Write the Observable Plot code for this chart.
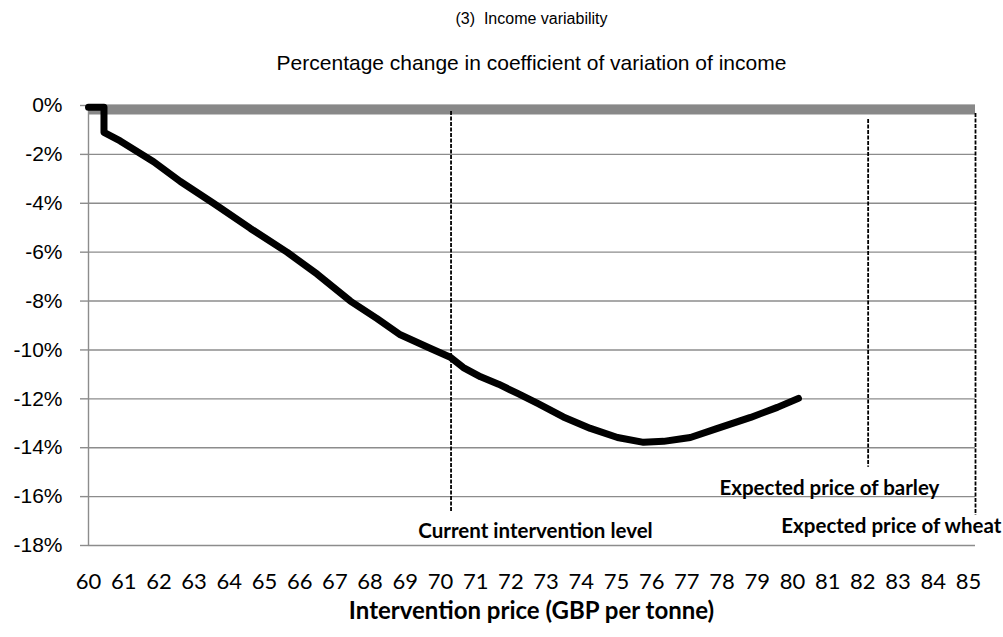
<!DOCTYPE html>
<html>
<head>
<meta charset="utf-8">
<script src="https://cdn.jsdelivr.net/npm/d3@7"></script>
<script src="https://cdn.jsdelivr.net/npm/@observablehq/plot@0.6"></script>
<style>
  html, body { margin: 0; padding: 0; background: #fff; }
  #wrap { width: 1003px; height: 637px; position: relative; overflow: hidden; }
  .title { font-family: "Liberation Sans", Arial, sans-serif; color: #000; text-align: center; position: absolute; left: 0; width: 1003px; padding-left: 60px; box-sizing: border-box; }
  #t1 { top: 10px; font-size: 16px; }
  #t2 { top: 51px; font-size: 21px; }
  #chart { position: absolute; top: 85px; left: 0; }
  #xt { position: absolute; top: 595px; left: 0; width: 1003px; text-align: center; padding-left: 60px; box-sizing: border-box;
        font-family: Lato, "Open Sans", sans-serif; font-weight: bold; font-size: 24px; }
</style>
</head>
<body>
<div id="wrap">
  <div class="title" id="t1">(3)&nbsp; Income variability</div>
  <div class="title" id="t2">Percentage change in coefficient of variation of income</div>
  <div id="chart"></div>
  <div id="xt">Intervention price (GBP per tonne)</div>
</div>
<script>
// Intervention price (GBP per tonne) and % change in coefficient of variation of income
const price = [60, 60.44, 60.44, 60.9, 61.85, 62.61, 63.55, 64.6, 65.65, 66.5, 67.44, 68.2, 68.86, 69.72,
  70.28, 70.65, 71.14, 71.65, 72.19, 72.76, 73.49, 74.26, 75.03, 75.77, 76.34, 76.9, 77.1, 77.87, 78.81, 79.57, 80.17];
const cvChange = [-0.07, -0.07, -1.10, -1.45, -2.3, -3.11, -4.0, -5.03, -6.01, -6.9, -8.0, -8.72, -9.38, -9.94,
  -10.3, -10.72, -11.1, -11.4, -11.78, -12.19, -12.74, -13.21, -13.58, -13.78, -13.74, -13.62, -13.58, -13.21, -12.76, -12.35, -11.98];

const yTicks = [0, -2, -4, -6, -8, -10, -12, -14, -16, -18];
const xTicks = [60, 61, 62, 63, 64, 65, 66, 67, 68, 69, 70, 71, 72, 73, 74, 75, 76, 77, 78, 79, 80, 81, 82, 83, 84, 85];

// zero reference band
const bandLevel = [-0.16];

// reference price markers
const markerPrice = [70.3, 82.15, 85.2];
const markerTop = [-0.25, -0.57, -0.33];
const markerBottom = [-16.65, -14.8, -16.77];

// marker labels
const noteText = ["Current intervention level", "Expected price of barley", "Expected price of wheat"];
const noteX = [72.7, 81.05, 82.81];
const noteY = [-17.44, -15.66, -17.22];

const series = price.map((p, i) => ({price: p, cv: cvChange[i]}));
const markers = markerPrice.map((p, i) => ({price: p, top: markerTop[i], bottom: markerBottom[i]}));
const notes = noteText.map((t, i) => ({text: t, x: noteX[i], y: noteY[i]}));

const grid = "#8c8c8c";

const chart = Plot.plot({
  width: 1003,
  height: 515,
  marginLeft: 88,
  marginRight: 28,
  marginTop: 20,
  marginBottom: 55,
  style: {background: "#fff", color: "#000", overflow: "visible"},
  x: {domain: [60, 85.2]},
  y: {domain: [-18, 0]},
  marks: [
    Plot.ruleY(yTicks, {stroke: grid, strokeWidth: 1.4}),
    Plot.ruleY(bandLevel, {stroke: "#888888", strokeWidth: 10}),
    Plot.ruleX([60], {stroke: grid, strokeWidth: 1.4}),
    Plot.axisY({ticks: yTicks, tickSize: 8, tickPadding: 18, stroke: grid, strokeWidth: 1.4,
      tickFormat: d => `${d}%`, fontFamily: "Liberation Sans, Arial, sans-serif", fontSize: 21, fill: "#000", label: null}),
    Plot.axisX({ticks: xTicks, tickSize: 0, tickPadding: 28, tickFormat: d => String(d),
      fontFamily: "Lato, sans-serif", fontSize: 22, fill: "#000", label: null}),
    Plot.ruleX(markers, {x: "price", y1: "top", y2: "bottom", stroke: "#000", strokeWidth: 1.8, strokeDasharray: "4,1.5"}),
    Plot.line(series, {x: "price", y: "cv", stroke: "#000", strokeWidth: 7, strokeLinejoin: "round", strokeLinecap: "round"}),
    Plot.text(notes, {x: "x", y: "y", text: "text", fontFamily: "Lato, sans-serif", fontWeight: "bold", fontSize: 20.5, fill: "#000"})
  ]
});
document.getElementById("chart").appendChild(chart);
</script>
</body>
</html>
